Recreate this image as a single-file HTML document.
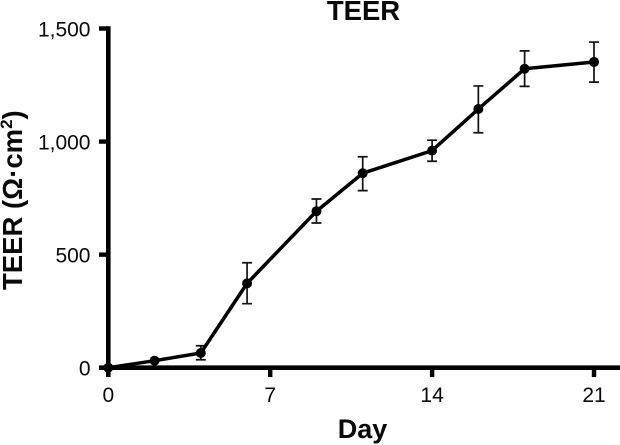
<!DOCTYPE html>
<html>
<head>
<meta charset="utf-8">
<style>
html,body{margin:0;padding:0;background:#fff;width:620px;height:445px;overflow:hidden}
svg{display:block;filter:blur(0.35px)}
text{font-family:"Liberation Sans",Arial,sans-serif;fill:#0a0a0a}
</style>
</head>
<body>
<svg id="chart" width="620" height="445" viewBox="0 0 620 445" xmlns="http://www.w3.org/2000/svg">
<text x="363.5" y="20" font-size="27.5" font-weight="bold" text-anchor="middle">TEER</text>
<text x="362.5" y="438" font-size="27" font-weight="bold" text-anchor="middle">Day</text>
<text transform="translate(22,290) rotate(-90)" font-size="27.5" font-weight="bold">TEER (Ω·cm<tspan font-size="17" dy="-10">2</tspan><tspan dy="10">)</tspan></text>
<g id="axes"></g>
<g id="errors"></g>
<g id="series"></g>
</svg>
<script>
var days = [0, 2, 4, 6, 9, 11, 14, 16, 18, 21];
var teerValues = [0, 31, 65, 373, 692, 860, 960, 1144, 1322, 1352];
var errorUpper = [0, 31, 97, 464, 746, 933, 1006, 1246, 1401, 1440];
var errorLower = [0, 31, 35, 283, 640, 783, 913, 1039, 1244, 1263];
var xTicks = [0, 7, 14, 21];
var yTicks = [0, 500, 1000, 1500];
var yTickLabels = ['0', '500', '1,000', '1,500'];

var NS = 'http://www.w3.org/2000/svg';
function xScale(d) { return 108.3 + d * (594 - 108.3) / 21; }
function yScale(v) { return 367.7 - v * (367.7 - 28.5) / 1500; }
function make(tag, attrs, parent) {
  var el = document.createElementNS(NS, tag);
  for (var k in attrs) el.setAttribute(k, attrs[k]);
  parent.appendChild(el);
  return el;
}
var axes = document.getElementById('axes');
var errors = document.getElementById('errors');
var series = document.getElementById('series');

var xAxis = make('line', {x1: 99, x2: 620, y1: yScale(0), y2: yScale(0), stroke: '#000', 'stroke-width': 4.6}, axes);


var yAxis = make('line', {x1: xScale(0), x2: xScale(0), y1: yScale(1500) - 2.3, y2: 377, stroke: '#000', 'stroke-width': 4.6}, axes);



xTicks.forEach(function (t) {
  var tick = make('line', {x1: xScale(t), x2: xScale(t), y1: yScale(0), y2: 377, stroke: '#000', 'stroke-width': 4.4}, axes);
  
  
  var label = make('text', {x: xScale(t), y: 402, 'font-size': 21, 'text-anchor': 'middle'}, axes);
  label.textContent = String(t);
  
  
});

yTicks.forEach(function (t, i) {
  var tick = make('line', {x1: 99, x2: xScale(0), y1: yScale(t), y2: yScale(t), stroke: '#000', 'stroke-width': 4.4}, axes);
  
  
  var label = make('text', {x: 90.5, y: yScale(t) + 8, 'font-size': 21, 'text-anchor': 'end'}, axes);
  label.textContent = yTickLabels[i];
  
  
});

days.forEach(function (d, i) {
  if (errorUpper[i] === errorLower[i]) return;
  var x = xScale(d), top = yScale(errorUpper[i]), bottom = yScale(errorLower[i]);
  var path = make('path', {
    d: 'M' + (x - 5) + ' ' + top + 'H' + (x + 5) + 'M' + x + ' ' + top + 'V' + bottom + 'M' + (x - 5) + ' ' + bottom + 'H' + (x + 5),
    stroke: '#111', 'stroke-width': 1.7, fill: 'none'
  }, errors);
  
  
});

var pts = days.map(function (d, i) { return xScale(d) + ',' + yScale(teerValues[i]); }).join(' ');
var line = make('polyline', {points: pts, fill: 'none', stroke: '#000', 'stroke-width': 3.5, 'stroke-linejoin': 'round'}, series);



days.forEach(function (d, i) {
  var point = make('circle', {cx: xScale(d), cy: yScale(teerValues[i]), r: 5, fill: '#000'}, series);
  
  
});
</script>
</body>
</html>
